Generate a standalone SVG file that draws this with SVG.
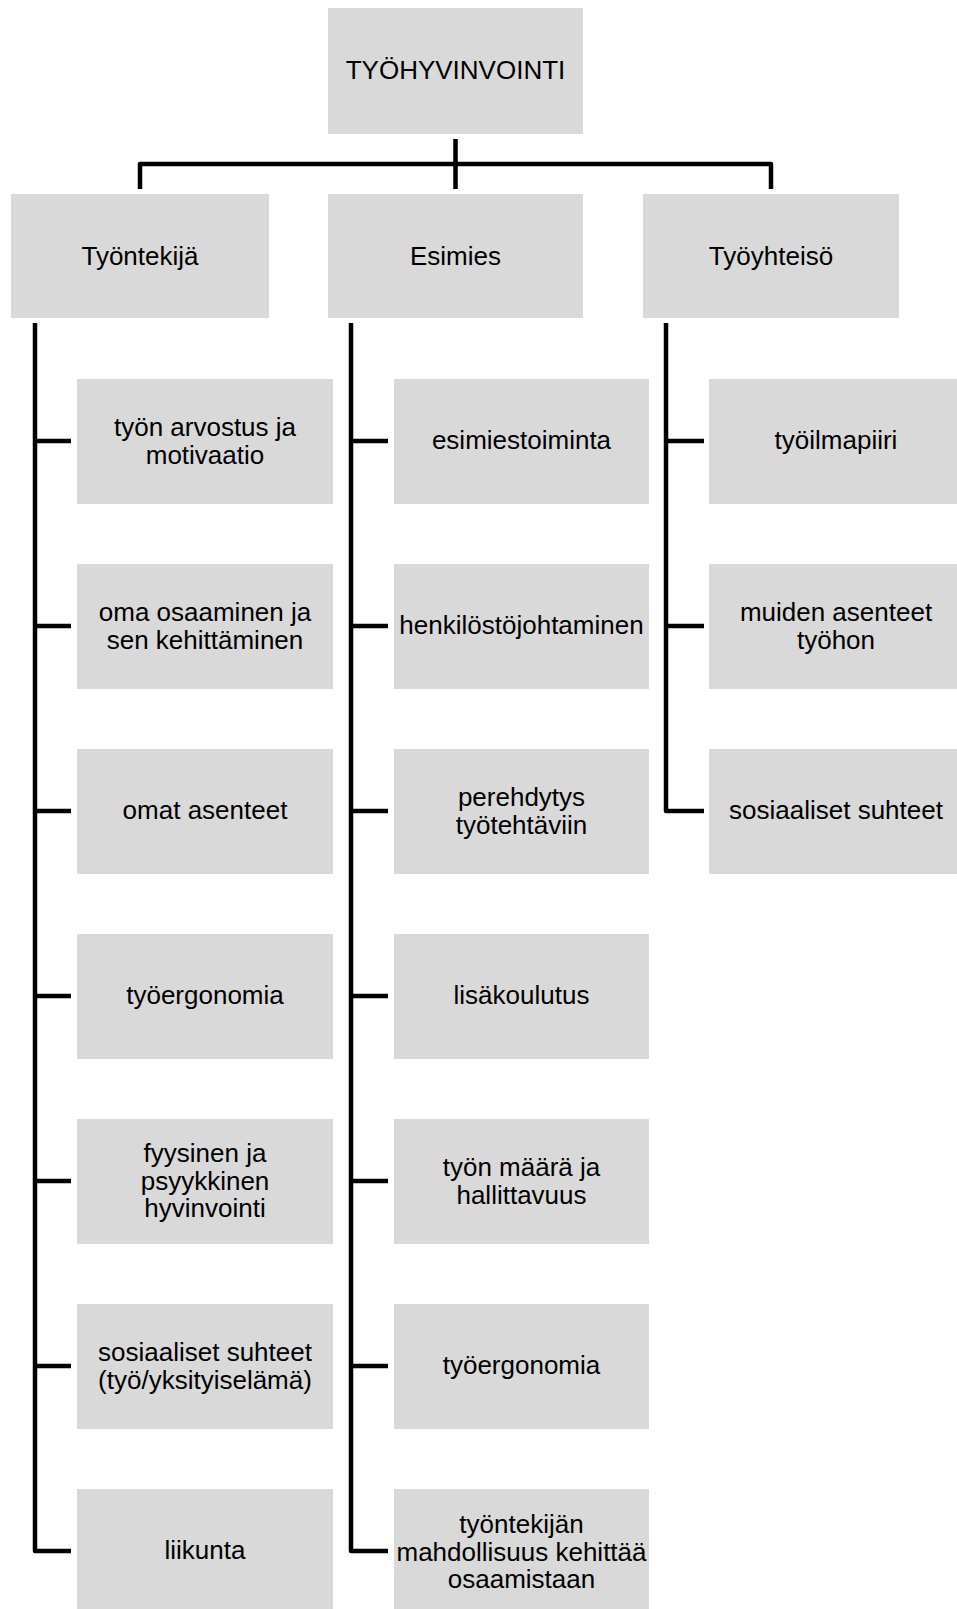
<svg xmlns="http://www.w3.org/2000/svg" width="957" height="1609" viewBox="0 0 957 1609">
<style>
.box{fill:#d9d9d9}
.t{font-family:"Liberation Sans",Arial,sans-serif;font-size:26px;fill:#000;text-anchor:middle}
.c{fill:none;stroke:#000;stroke-width:4.5;stroke-linejoin:round}
</style>
<rect width="957" height="1609" fill="#fff"/>
<g id="connectors">
<path class="c" d="M455.5,139 V189 M140,189 V164 H771 V189"/>
<path class="c" d="M35,323 V1551 H71 M35,441 H71 M35,626 H71 M35,811 H71 M35,996 H71 M35,1181 H71 M35,1366 H71"/>
<path class="c" d="M351,323 V1551 H388 M351,441 H388 M351,626 H388 M351,811 H388 M351,996 H388 M351,1181 H388 M351,1366 H388"/>
<path class="c" d="M666,323 V811 H704 M666,441 H704 M666,626 H704"/>
</g>
<g id="root"><rect class="box" x="328" y="8" width="255" height="126"/><text class="t" x="455.5" y="79">TYÖHYVINVOINTI</text></g>
<g id="tyontekija"><rect class="box" x="11" y="194" width="258" height="124"/><text class="t" x="140" y="265">Työntekijä</text></g>
<g id="esimies"><rect class="box" x="328" y="194" width="255" height="124"/><text class="t" x="455.5" y="265">Esimies</text></g>
<g id="tyoyhteiso"><rect class="box" x="643" y="194" width="256" height="124"/><text class="t" x="771" y="265">Työyhteisö</text></g>

<g id="l1"><rect class="box" x="77" y="379" width="256" height="125"/><text class="t" x="205" y="436">työn arvostus ja</text><text class="t" x="205" y="464">motivaatio</text></g>
<g id="l2"><rect class="box" x="77" y="564" width="256" height="125"/><text class="t" x="205" y="621">oma osaaminen ja</text><text class="t" x="205" y="649">sen kehittäminen</text></g>
<g id="l3"><rect class="box" x="77" y="749" width="256" height="125"/><text class="t" x="205" y="819">omat asenteet</text></g>
<g id="l4"><rect class="box" x="77" y="934" width="256" height="125"/><text class="t" x="205" y="1004">työergonomia</text></g>
<g id="l5"><rect class="box" x="77" y="1119" width="256" height="125"/><text class="t" x="205" y="1162">fyysinen ja</text><text class="t" x="205" y="1190">psyykkinen</text><text class="t" x="205" y="1217">hyvinvointi</text></g>
<g id="l6"><rect class="box" x="77" y="1304" width="256" height="125"/><text class="t" x="205" y="1361">sosiaaliset suhteet</text><text class="t" x="205" y="1389">(työ/yksityiselämä)</text></g>
<g id="l7"><rect class="box" x="77" y="1489" width="256" height="125"/><text class="t" x="205" y="1559">liikunta</text></g>

<g id="m1"><rect class="box" x="394" y="379" width="255" height="125"/><text class="t" x="521.5" y="449">esimiestoiminta</text></g>
<g id="m2"><rect class="box" x="394" y="564" width="255" height="125"/><text class="t" x="521.5" y="634">henkilöstöjohtaminen</text></g>
<g id="m3"><rect class="box" x="394" y="749" width="255" height="125"/><text class="t" x="521.5" y="806">perehdytys</text><text class="t" x="521.5" y="834">työtehtäviin</text></g>
<g id="m4"><rect class="box" x="394" y="934" width="255" height="125"/><text class="t" x="521.5" y="1004">lisäkoulutus</text></g>
<g id="m5"><rect class="box" x="394" y="1119" width="255" height="125"/><text class="t" x="521.5" y="1176">työn määrä ja</text><text class="t" x="521.5" y="1204">hallittavuus</text></g>
<g id="m6"><rect class="box" x="394" y="1304" width="255" height="125"/><text class="t" x="521.5" y="1374">työergonomia</text></g>
<g id="m7"><rect class="box" x="394" y="1489" width="255" height="125"/><text class="t" x="521.5" y="1533">työntekijän</text><text class="t" x="521.5" y="1561">mahdollisuus kehittää</text><text class="t" x="521.5" y="1588">osaamistaan</text></g>

<g id="r1"><rect class="box" x="709" y="379" width="256" height="125"/><text class="t" x="836" y="449">työilmapiiri</text></g>
<g id="r2"><rect class="box" x="709" y="564" width="256" height="125"/><text class="t" x="836" y="621">muiden asenteet</text><text class="t" x="836" y="649">työhon</text></g>
<g id="r3"><rect class="box" x="709" y="749" width="256" height="125"/><text class="t" x="836" y="819">sosiaaliset suhteet</text></g>
</svg>
